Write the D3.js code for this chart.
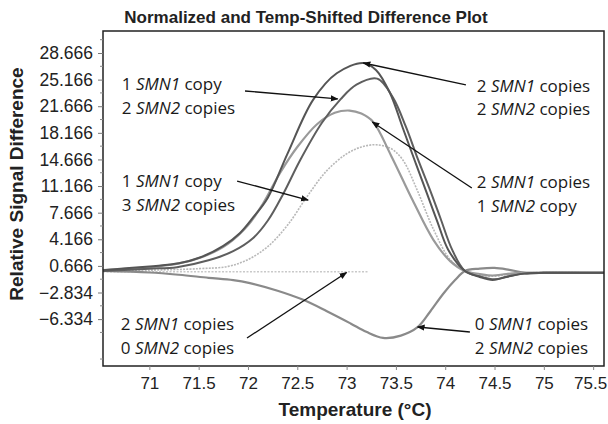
<!DOCTYPE html>
<html>
<head>
<meta charset="utf-8">
<script src="https://cdn.jsdelivr.net/npm/d3@7"></script>
<style>
body { margin: 0; background: #fff; }
</style>
</head>
<body>
<svg id="chart" width="608" height="424"></svg>
<script>
// tick labels
const xTicks = [71, 71.5, 72, 72.5, 73, 73.5, 74, 74.5, 75, 75.5]
const yTicks = [28.666, 25.166, 21.666, 18.166, 14.666, 11.166, 7.666, 4.166, 0.666, -2.834, -6.334]

// series, [temperature, signal difference]
const smn1_2_smn2_2 = [[70.53,0.1],[71.0,0.6],[71.3,1.0],[71.52,1.8],[71.75,3.3],[71.92,5.0],[72.05,7.0],[72.2,9.6],[72.4,15.4],[72.66,22.5],[72.9,26.0],[73.17,27.35],[73.3,26.4],[73.44,23.4],[73.57,18.8],[73.7,14.2],[73.82,10.0],[73.92,6.5],[74.03,2.8],[74.2,0.0],[74.35,-0.8],[74.48,-1.2],[74.62,-0.8],[74.8,-0.35],[75.0,-0.25],[75.61,-0.25]]
const smn1_1_smn2_2 = [[70.53,0.0],[71.0,0.3],[71.28,0.5],[71.6,1.4],[71.85,2.6],[72.05,4.3],[72.2,6.6],[72.36,10.2],[72.53,14.6],[72.75,19.5],[72.94,22.6],[73.1,24.5],[73.31,25.3],[73.47,22.8],[73.6,19.0],[73.72,14.8],[73.85,10.5],[73.95,7.0],[74.07,2.8],[74.2,0.0],[74.35,-0.7],[74.5,-1.1],[74.64,-0.7],[74.8,-0.35],[75.0,-0.25],[75.61,-0.25]]
const smn1_2_smn2_1 = [[70.53,0.1],[71.0,0.5],[71.3,1.0],[71.55,1.9],[71.8,3.6],[72.0,6.0],[72.15,8.8],[72.33,13.0],[72.5,16.3],[72.7,19.3],[72.88,20.8],[73.03,21.1],[73.15,20.7],[73.27,19.6],[73.45,15.2],[73.67,9.3],[73.88,4.1],[74.05,1.3],[74.2,0.0],[74.35,-0.4],[74.48,-0.6],[74.62,-0.4],[74.8,-0.25],[75.61,-0.25]]
const smn1_1_smn2_3 = [[70.53,0.0],[71.0,0.1],[71.5,0.3],[71.8,0.6],[72.0,1.5],[72.2,3.2],[72.4,6.0],[72.6,9.8],[72.8,13.2],[73.0,15.4],[73.15,16.3],[73.3,16.6],[73.45,16.1],[73.57,14.6],[73.72,10.5],[73.88,5.5],[74.05,1.5],[74.2,0.0],[74.35,-0.5],[74.5,-0.7],[74.65,-0.4],[74.8,-0.25],[75.61,-0.25]]
const smn1_2_smn2_0 = [[70.53,-0.1],[73.22,-0.1]]
const smn1_0_smn2_2 = [[70.53,0.0],[71.0,-0.2],[71.3,-0.5],[71.6,-0.9],[71.85,-1.2],[72.02,-1.6],[72.3,-2.6],[72.56,-3.8],[72.8,-5.3],[73.04,-6.9],[73.2,-8.0],[73.37,-8.8],[73.55,-8.5],[73.72,-7.4],[73.85,-5.3],[73.98,-3.0],[74.1,-1.2],[74.2,0.0],[74.35,0.3],[74.5,0.4],[74.65,0.15],[74.8,-0.2],[75.0,-0.25],[75.61,-0.25]]

// label texts: [count, gene, word]
const labelTexts = [
  [["1", "SMN1", "copy"], ["2", "SMN2", "copies"]],
  [["1", "SMN1", "copy"], ["3", "SMN2", "copies"]],
  [["2", "SMN1", "copies"], ["0", "SMN2", "copies"]],
  [["2", "SMN1", "copies"], ["2", "SMN2", "copies"]],
  [["2", "SMN1", "copies"], ["1", "SMN2", "copy"]],
  [["0", "SMN1", "copies"], ["2", "SMN2", "copies"]]
]

const W = 608, H = 424
const margin = {top: 31, right: 4, bottom: 58, left: 103}
const svg = d3.select("#chart")

const x = d3.scaleLinear().domain([70.53, 75.61]).range([margin.left, W - margin.right])
const y = d3.scaleLinear().domain([-12.5, 31.56]).range([H - margin.bottom, margin.top])

// label anchors and leader lines in data units
const labelPos = [[70.72, 23.8], [70.72, 11.04], [70.71, -7.77], [74.32, 23.54], [74.32, 10.91], [74.30, -7.77]]
const leaders = [
  [[71.97, 23.67], [72.91, 22.62]],
  [[71.89, 11.83], [72.61, 9.33]],
  [[71.99, -8.82], [73.0, -0.2]],
  [[74.21, 24.46], [73.17, 27.35]],
  [[74.27, 10.91], [73.26, 19.59]],
  [[74.25, -8.03], [73.72, -7.37]]
]

const series = [
  {data: smn1_2_smn2_0, color: "#c9c9c9", width: 1.6, dash: "2,1.5"},
  {data: smn1_1_smn2_3, color: "#b8b8b8", width: 1.6, dash: "2,1.2"},
  {data: smn1_0_smn2_2, color: "#8a8a8a", width: 2.2, dash: null},
  {data: smn1_2_smn2_1, color: "#9a9a9a", width: 2.2, dash: null},
  {data: smn1_1_smn2_2, color: "#5e5e5e", width: 2, dash: null},
  {data: smn1_2_smn2_2, color: "#555", width: 2, dash: null}
]

const line = d3.line()
  .x(d => x(d[0]))
  .y(d => y(d[1]))
  .curve(d3.curveCatmullRom.alpha(0.5))

svg.selectAll(".curve")
  .data(series)
  .enter()
  .append("path")
  .attr("class", "curve")
  .attr("d", d => line(d.data))
  .attr("fill", "none")
  .attr("stroke", d => d.color)
  .attr("stroke-width", d => d.width)
  .attr("stroke-dasharray", d => d.dash)
  .attr("stroke-linejoin", "round")

// frame
svg.append("rect")
  .attr("x", margin.left)
  .attr("y", margin.top)
  .attr("width", W - margin.right - margin.left)
  .attr("height", H - margin.bottom - margin.top)
  .attr("fill", "none")
  .attr("stroke", "#222")
  .attr("stroke-width", 1.5)

// y axis
const fmt = d3.format(".3f")
const yAxis = svg.append("g")
  .attr("transform", `translate(${margin.left},0)`)
  .call(d3.axisLeft(y).tickValues(yTicks).tickFormat(fmt).tickSize(5).tickPadding(5))
yAxis.select(".domain").remove()
yAxis.selectAll("text").attr("font-family", "Liberation Sans, Arial, sans-serif").attr("font-size", 17.5).attr("fill", "#222")
yAxis.selectAll("line").attr("stroke", "#777")

const yMinor = d3.range(-11.584, 31, 3.5)
svg.append("g").selectAll("line")
  .data(yMinor)
  .enter()
  .append("line")
  .attr("x1", margin.left - 3)
  .attr("x2", margin.left)
  .attr("y1", d => y(d))
  .attr("y2", d => y(d))
  .attr("stroke", "#888")

// x axis
const xAxis = svg.append("g")
  .attr("transform", `translate(0,${H - margin.bottom})`)
  .call(d3.axisBottom(x).tickValues(xTicks).tickFormat(d3.format("")).tickSize(4).tickPadding(7))
xAxis.select(".domain").remove()
xAxis.selectAll("text").attr("font-family", "Liberation Sans, Arial, sans-serif").attr("font-size", 17).attr("fill", "#222")
  .attr("dx", d => d === 75.5 ? -3 : 0)
xAxis.selectAll("line").attr("stroke", "#888")

// titles
svg.append("text")
  .attr("x", 306)
  .attr("y", 23)
  .attr("text-anchor", "middle")
  .attr("font-family", "Liberation Sans, Arial, sans-serif")
  .attr("font-weight", "bold")
  .attr("font-size", 17)
  .attr("fill", "#222")
  .text("Normalized and Temp-Shifted Difference Plot")

svg.append("text")
  .attr("x", 355)
  .attr("y", 416)
  .attr("text-anchor", "middle")
  .attr("font-family", "Liberation Sans, Arial, sans-serif")
  .attr("font-weight", "bold")
  .attr("font-size", 19)
  .attr("fill", "#222")
  .text("Temperature (°C)")

svg.append("text")
  .attr("transform", "translate(23,184) rotate(-90)")
  .attr("text-anchor", "middle")
  .attr("font-family", "Liberation Sans, Arial, sans-serif")
  .attr("font-weight", "bold")
  .attr("font-size", 19)
  .attr("fill", "#222")
  .text("Relative Signal Difference")

// arrowhead
svg.append("defs").append("marker")
  .attr("id", "arrow")
  .attr("viewBox", "0 0 10 10")
  .attr("refX", 9)
  .attr("refY", 5)
  .attr("markerWidth", 6)
  .attr("markerHeight", 6)
  .attr("orient", "auto")
  .append("path")
  .attr("d", "M0,1 L10,5 L0,9 Z")
  .attr("fill", "#111")

svg.selectAll(".leader")
  .data(leaders)
  .enter()
  .append("line")
  .attr("class", "leader")
  .attr("x1", d => x(d[0][0]))
  .attr("y1", d => y(d[0][1]))
  .attr("x2", d => x(d[1][0]))
  .attr("y2", d => y(d[1][1]))
  .attr("stroke", "#111")
  .attr("stroke-width", 1.3)
  .attr("marker-end", "url(#arrow)")

// callout labels
const lab = svg.selectAll(".callout")
  .data(labelTexts)
  .enter()
  .append("text")
  .attr("class", "callout")
  .attr("font-family", "Open Sans, sans-serif")
  .attr("font-size", 17)
  .attr("fill", "#1a1a1a")

lab.each(function (lines, i) {
  const t = d3.select(this)
  lines.forEach((l, j) => {
    t.append("tspan")
      .attr("x", x(labelPos[i][0]))
      .attr("y", y(labelPos[i][1]) + j * 23.5)
      .text(l[0] + " ")
    t.append("tspan").attr("font-style", "italic").text(l[1])
    t.append("tspan").text(" " + l[2])
  })
})
</script>
</body>
</html>
